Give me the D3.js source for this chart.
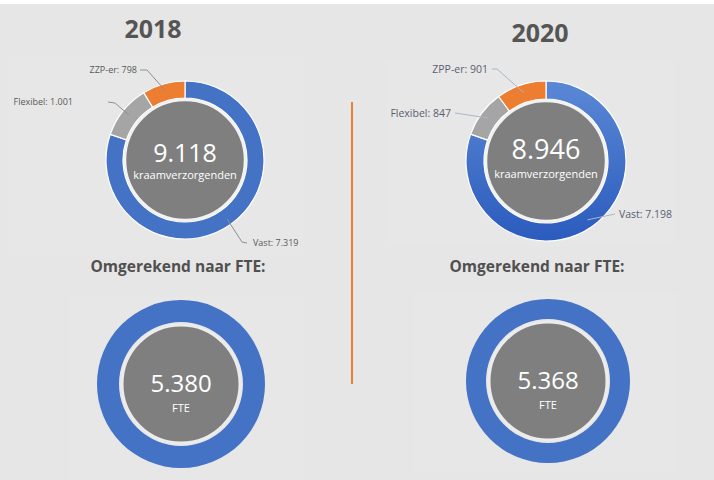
<!DOCTYPE html>
<html>
<head>
<meta charset="utf-8">
<script src="https://cdn.jsdelivr.net/npm/d3@7"></script>
<style>
  body { margin: 0; background: #e6e6e6; }
  svg { display: block; font-family: "Open Sans", sans-serif; }
</style>
</head>
<body>
<div id="chart"></div>
<script>
// Kraamverzorgenden 2018 vs 2020 (donut charts)

// Pt. 0 - DATA

const years = ["2018", "2020"];
const categories2018 = ["Vast", "Flexibel", "ZZP-er"];
const categories2020 = ["Vast", "Flexibel", "ZPP-er"];  // typo kept as in the source
const values2018 = [7319, 1001, 798];
const values2020 = [7198, 847, 901];
const totals = [9118, 8946];
const fteValues = [5380, 5368];
const subTitle = "Omgerekend naar FTE:";

// Pt. 1 - TYPE SETTING

const width = 714,
      height = 480;

const nl = d3.formatLocale({ decimal: ",", thousands: ".", grouping: [3], currency: ["€", ""] });
const fmt = nl.format(",");

const colors = d3.scaleOrdinal()
    .domain(["Vast", "Flexibel", "ZZP-er", "ZPP-er"])
    .range(["#4472c4", "#a5a5a5", "#ed7d31", "#ed7d31"]);

// one layout entry per year: centers of top + bottom donuts, label spots (relative to center)
const layout = [
    {
        titleX: 153, titleY: 38,
        top: { cx: 185, cy: 160, r0: 62, r1: 79, core: 60 },
        bottom: { cx: 181, cy: 384, r0: 62, r1: 84, core: 59 },
        subX: 178,
        labelSize: 9, labelColor: "#595959", leaderColor: "#8f8f8f",
        spots: [
            { path: [[57, 82], [62, 83]], text: [68, 86], anchor: "start" },
            { path: [[-70, -57], [-77, -58]], text: [-112, -55], anchor: "end" },
            { path: [[-38, -90], [-45, -90]], text: [-48, -87], anchor: "end" }
        ],
        bigSize: 25, numDy: 2, subDy: 19
    },
    {
        titleX: 540, titleY: 42,
        top: { cx: 546, cy: 161, r0: 62, r1: 80, core: 60, gradient: true },
        bottom: { cx: 548, cy: 381, r0: 62, r1: 82, core: 59 },
        subX: 537,
        labelSize: 10.5, labelColor: "#5a6070", leaderColor: "#aab6cb",
        spots: [
            { path: [[69, 53]], text: [73, 57], anchor: "start" },
            { path: [[-91, -48]], text: [-95, -44], anchor: "end" },
            { path: [[-49, -92], [-54, -92]], text: [-58, -88], anchor: "end" }
        ],
        bigSize: 27, numDy: -2, subDy: 17
    }
];

let svg = d3.select("#chart")
    .append("svg")
    .attr("width", width)
    .attr("height", height)
    .attr("viewBox", [0, 0, width, height]);

// background, white strip on top, faint panels behind each chart
svg.append("rect").attr("width", width).attr("height", height).attr("fill", "#e6e6e6");
svg.append("rect").attr("width", width).attr("height", 4).attr("fill", "#ffffff");
const panels = [[8, 57, 295, 200], [386, 60, 288, 186], [70, 297, 235, 183], [414, 293, 264, 180]];
svg.selectAll(".panel")
    .data(panels)
    .join("rect")
    .attr("class", "panel")
    .attr("x", d => d[0]).attr("y", d => d[1])
    .attr("width", d => d[2]).attr("height", d => d[3])
    .attr("fill", "#e7e7e7");

// gradient for the 2020 ring (coordinates local to the donut group)
const defs = svg.append("defs");
const grad = defs.append("linearGradient")
    .attr("id", "blue2020")
    .attr("gradientUnits", "userSpaceOnUse")
    .attr("x1", 0).attr("x2", 0)
    .attr("y1", -layout[1].top.r1)
    .attr("y2", layout[1].top.r1);
grad.append("stop").attr("offset", "0%").attr("stop-color", "#5b88d5");
grad.append("stop").attr("offset", "100%").attr("stop-color", "#2b5bbd");

// orange divider
svg.append("line")
    .attr("x1", 352).attr("x2", 352)
    .attr("y1", 102).attr("y2", 384)
    .attr("stroke", "#ed7d31")
    .attr("stroke-width", 2);

const pie = d3.pie().sort(null).value(d => d.value);

// Pt. 2 - DRAW EACH YEAR

years.forEach((year, i) => {
    const L = layout[i];
    const cats = i === 0 ? categories2018 : categories2020;
    const vals = i === 0 ? values2018 : values2020;
    const data = cats.map((c, j) => ({ cat: c, value: vals[j] }));

    // year title
    svg.append("text")
        .text(year)
        .attr("x", L.titleX).attr("y", L.titleY)
        .attr("text-anchor", "middle")
        .attr("font-size", 25)
        .attr("font-weight", 700)
        .attr("fill", "#555555");

    // top donut
    const t = L.top;
    const g = svg.append("g").attr("transform", `translate(${t.cx},${t.cy})`);
    const arc = d3.arc().innerRadius(t.r0).outerRadius(t.r1);
    const arcs = pie(data);

    g.selectAll("path.slice")
        .data(arcs)
        .join("path")
        .attr("class", "slice")
        .attr("d", arc)
        .attr("fill", d => (t.gradient && d.data.cat === "Vast") ? "url(#blue2020)" : colors(d.data.cat))
        .attr("stroke", "#ffffff")
        .attr("stroke-width", 1.2);

    g.append("circle")
        .attr("r", t.core)
        .attr("fill", "#7f7f7f")
        .attr("stroke", "#f2f2f2")
        .attr("stroke-width", 2.5);

    g.append("text")
        .text(fmt(totals[i]))
        .attr("y", L.numDy)
        .attr("text-anchor", "middle")
        .attr("font-size", L.bigSize)
        .attr("fill", "#ffffff");

    g.append("text")
        .text("kraamverzorgenden")
        .attr("y", L.subDy)
        .attr("text-anchor", "middle")
        .attr("font-size", 11)
        .attr("fill", "#ffffff");

    // leader lines start at the slice centroid (mid ring)
    const mid = d3.arc().innerRadius(72).outerRadius(72);
    g.selectAll("polyline.leader")
        .data(arcs)
        .join("polyline")
        .attr("class", "leader")
        .attr("points", (d, j) => [mid.centroid(d)].concat(L.spots[j].path).join(" "))
        .attr("fill", "none")
        .attr("stroke", L.leaderColor)
        .attr("stroke-width", 1);

    g.selectAll("text.lbl")
        .data(arcs)
        .join("text")
        .attr("class", "lbl")
        .text(d => `${d.data.cat}: ${fmt(d.data.value)}`)
        .attr("x", (d, j) => L.spots[j].text[0])
        .attr("y", (d, j) => L.spots[j].text[1])
        .attr("text-anchor", (d, j) => L.spots[j].anchor)
        .attr("font-size", L.labelSize)
        .attr("fill", L.labelColor);

    // subtitle
    svg.append("text")
        .text(subTitle)
        .attr("x", L.subX).attr("y", 272)
        .attr("text-anchor", "middle")
        .attr("font-size", 15.5)
        .attr("font-weight", 700)
        .attr("fill", "#505050");

    // bottom FTE ring (single full slice)
    const b = L.bottom;
    const gb = svg.append("g").attr("transform", `translate(${b.cx},${b.cy})`);
    const arcB = d3.arc().innerRadius(b.r0).outerRadius(b.r1);

    gb.selectAll("path")
        .data(pie([{ value: fteValues[i] }]))
        .join("path")
        .attr("d", arcB)
        .attr("fill", "#4472c4");

    gb.append("circle")
        .attr("r", b.core)
        .attr("fill", "#7f7f7f")
        .attr("stroke", "#ececec")
        .attr("stroke-width", 3);

    gb.append("text")
        .text(fmt(fteValues[i]))
        .attr("y", 8)
        .attr("text-anchor", "middle")
        .attr("font-size", 24)
        .attr("fill", "#ffffff");

    gb.append("text")
        .text("FTE")
        .attr("y", 28)
        .attr("text-anchor", "middle")
        .attr("font-size", 11)
        .attr("fill", "#ffffff");
});
</script>
</body>
</html>
